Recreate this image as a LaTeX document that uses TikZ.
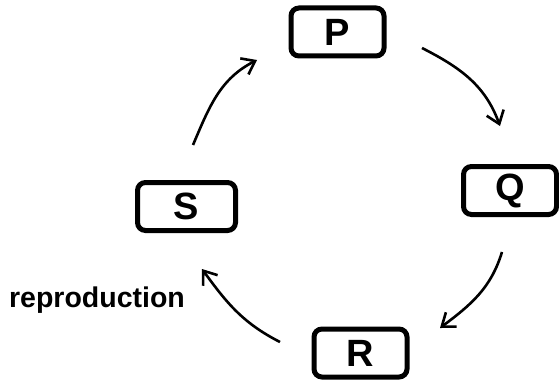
\documentclass[tikz,border=0pt]{standalone}
\usepackage{fontspec}
\setmainfont{Liberation Sans}
\usetikzlibrary{arrows.meta}

\begin{document}
\begin{tikzpicture}[x=1pt,y=1pt,
    box/.style={draw,line width=5pt,rounded corners=8pt,minimum width=93pt,minimum height=48pt,
      font=\fontsize{38}{38}\selectfont\bfseries},
    cyc/.style={line width=2.6pt,-{Straight Barb[length=12pt,width=18pt]}}]
    \useasboundingbox (0,0) rectangle (559,381);
            \node[box] (P) at (337.5,349) {P};
            \node[box] (Q) at (510,190.5) {Q};
            \node[box] (R) at (360.5,28) {R};
            \node[box,minimum width=98pt] (S) at (186.5,174.5) {S};
            \node[font=\fontsize{28.5}{28.5}\selectfont\bfseries] (repro) at (97,81) {reproduction};
            \draw[cyc] ([shift={(35.5,-16)}]P.east) to[out=-27,in=110] ([shift={(-10,38)}]Q.north);
            \draw[cyc] ([shift={(-8,-35)}]Q.south) to[out=-107,in=37] ([shift={(30.5,25)}]R.east);
            \draw[cyc] ([shift={(-31.5,11)}]R.west) to[out=153,in=-54] ([shift={(15.5,-36)}]S.south);
            \draw[cyc] ([shift={(6.5,35)}]S.north) to[out=67,in=-153] ([shift={(-31.5,-28)}]P.west);
        \end{tikzpicture}
\end{document}
